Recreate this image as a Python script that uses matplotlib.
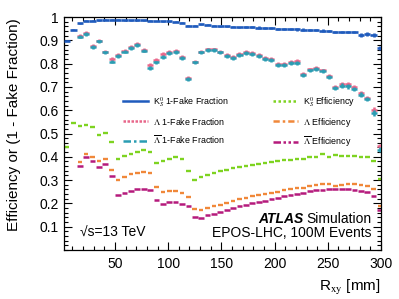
import numpy as np
import matplotlib
matplotlib.use("Agg")
import matplotlib.pyplot as plt
from matplotlib.lines import Line2D
from matplotlib.ticker import MultipleLocator, FormatStrFormatter

plt.rcParams['font.family'] = ['Liberation Sans', 'DejaVu Sans']
plt.rcParams['mathtext.fontset'] = 'stix'

nan = np.nan
# bin edges in R_xy [mm]
bin_edges = np.arange(2, 303, 6)

k0_fake = [0.899, 0.945, 0.974, 0.984, 0.985, 0.987, 0.988, 0.988, 0.988, 0.987,
           0.987, 0.987, 0.986, 0.984, 0.983, 0.982, 0.982, 0.980, 0.975, 0.963,
           0.962, 0.968, 0.966, 0.963, 0.961, 0.960, 0.958, 0.957, 0.957, 0.956,
           0.955, 0.953, 0.952, 0.950, 0.949, 0.948, 0.947, 0.946, 0.944, 0.943,
           0.942, 0.941, 0.936, 0.935, 0.935, 0.935, 0.924, 0.926, 0.922, 0.866]
k0_fake_err = [0.002]*28 + [0.005]*18 + [0.008]*4

lbar_fake = [nan, nan, 0.916, 0.927, 0.871, 0.895, 0.848, 0.809, 0.834, 0.852,
             0.867, 0.881, 0.856, 0.781, 0.805, 0.828, 0.845, 0.849, 0.824, 0.734,
             0.805, 0.848, 0.857, 0.857, 0.848, 0.834, 0.824, 0.838, 0.845, 0.842,
             0.834, 0.819, 0.817, 0.795, 0.795, 0.802, 0.802, 0.752, 0.771, 0.777,
             0.767, 0.742, 0.695, 0.705, 0.702, 0.691, 0.667, 0.648, 0.588, 0.431]
lam_fake = [nan, nan, 0.920, 0.931, 0.875, 0.899, 0.852, 0.820, 0.838, 0.856,
            0.871, 0.885, 0.860, 0.795, 0.815, 0.840, 0.849, 0.853, 0.828, 0.738,
            0.809, 0.852, 0.861, 0.861, 0.852, 0.838, 0.830, 0.842, 0.849, 0.846,
            0.838, 0.824, 0.822, 0.800, 0.800, 0.806, 0.812, 0.757, 0.775, 0.781,
            0.771, 0.747, 0.700, 0.712, 0.713, 0.700, 0.672, 0.653, 0.600, 0.445]
lam_fake_err = [nan, nan] + [0.008]*40 + [0.010]*6 + [0.012]*2

k0_eff = [0.443, 0.545, 0.534, 0.535, 0.526, 0.495, 0.504, 0.462, 0.391, 0.404,
          0.412, 0.421, 0.428, 0.422, 0.374, 0.384, 0.392, 0.398, 0.392, 0.341,
          0.302, 0.314, 0.322, 0.331, 0.338, 0.345, 0.352, 0.357, 0.362, 0.366,
          0.371, 0.374, 0.378, 0.381, 0.385, 0.388, 0.391, 0.392, 0.398, 0.400,
          0.411, 0.400, 0.406, 0.404, 0.404, 0.403, 0.400, 0.398, 0.382, 0.306]
lam_eff = [nan, nan, 0.379, 0.414, 0.400, 0.381, 0.391, 0.342, 0.302, 0.314,
           0.327, 0.331, 0.334, 0.329, 0.271, 0.250, 0.255, 0.252, 0.243, 0.226,
           0.175, 0.172, 0.180, 0.188, 0.193, 0.200, 0.210, 0.218, 0.224, 0.230,
           0.236, 0.241, 0.246, 0.251, 0.256, 0.261, 0.265, 0.268, 0.274, 0.279,
           0.282, 0.283, 0.275, 0.280, 0.282, 0.282, 0.281, 0.276, 0.262, 0.188]
lbar_eff = [nan, nan, 0.362, 0.398, 0.381, 0.357, 0.369, 0.319, 0.238, 0.245,
            0.255, 0.262, 0.263, 0.258, 0.213, 0.199, 0.204, 0.204, 0.199, 0.188,
            0.140, 0.138, 0.148, 0.156, 0.163, 0.171, 0.180, 0.187, 0.194, 0.200,
            0.206, 0.212, 0.218, 0.224, 0.230, 0.235, 0.241, 0.246, 0.252, 0.256,
            0.258, 0.260, 0.262, 0.262, 0.261, 0.259, 0.255, 0.248, 0.232, 0.172]

labels = [r"K$^{0}_{S}$ 1-Fake Fraction", r"$\Lambda$ 1-Fake Fraction",
          r"$\overline{\Lambda}$ 1-Fake Fraction", r"K$^{0}_{S}$ Efficiency",
          r"$\Lambda$ Efficiency", r"$\overline{\Lambda}$ Efficiency"]

c_k0f, c_lf, c_lbf = '#1f5bbd', '#e8678a', '#2a9db3'
c_k0e, c_le, c_lbe = '#7ed321', '#f0883a', '#b51a7c'

fig = plt.figure(figsize=(3.99, 2.99), dpi=100)
ax = fig.add_axes([0.160, 0.164, 0.795, 0.779])

edges = np.asarray(bin_edges, float)
xc = 0.5 * (edges[:-1] + edges[1:])
hw = 0.5 * (edges[1:] - edges[:-1])


def draw(vals, color, frac, lw, err=None, z=2):
    y = np.asarray(vals, float)
    m = ~np.isnan(y)
    ax.hlines(y[m], xc[m] - hw[m] * frac, xc[m] + hw[m] * frac,
              colors=color, lw=lw, zorder=z)
    if err is not None:
        e = np.asarray(err, float)
        ax.vlines(xc[m], y[m] - e[m], y[m] + e[m], colors=color, lw=lw, zorder=z)


draw(k0_eff, c_k0e, 0.72, 1.7)
draw(lam_eff, c_le, 0.72, 1.7)
draw(lbar_eff, c_lbe, 0.9, 1.8)
draw(lam_fake, c_lf, 0.95, 1.8, lam_fake_err, z=3)
draw(lbar_fake, c_lbf, 0.95, 1.8, lam_fake_err, z=4)
draw(k0_fake, c_k0f, 1.0, 1.9, k0_fake_err, z=5)

ax.set_xlim(2, 300)
ax.set_ylim(0, 1)
ax.xaxis.set_major_locator(MultipleLocator(50))
ax.xaxis.set_minor_locator(MultipleLocator(10))
ax.set_yticks(np.arange(1, 11) / 10)
ax.yaxis.set_minor_locator(MultipleLocator(0.02))
ax.yaxis.set_major_formatter(FormatStrFormatter('%g'))
ax.xaxis.set_major_formatter(FormatStrFormatter('%g'))
ax.tick_params(which='both', direction='in', top=True, right=True, labelsize=10)
ax.tick_params(which='major', length=6, width=0.8)
ax.tick_params(which='minor', length=3, width=0.8)
ax.tick_params(axis='x', pad=5)
for s in ax.spines.values():
    s.set_linewidth(0.9)

ax.set_xlabel(r"R$_{\mathrm{xy}}$ [mm]", fontsize=11, loc='right', labelpad=5)
fig.text(14 / 399, 1 - 18 / 299, "Efficiency or (1 - Fake Fraction)", rotation=90,
         ha='center', va='top', fontsize=11)

handles = [Line2D([], [], color=c_k0f, lw=1.8, ls='-'),
           Line2D([], [], color=c_lf, lw=1.8, ls=(0, (1, 0.6))),
           Line2D([], [], color=c_lbf, lw=1.8, ls=(0, (3, 1.2, 1, 1.2))),
           Line2D([], [], color=c_k0e, lw=1.8, ls=(0, (1, 1))),
           Line2D([], [], color=c_le, lw=1.8, ls=(0, (2.5, 1.2, 1, 1.2))),
           Line2D([], [], color=c_lbe, lw=1.8, ls=(0, (3, 1, 1, 1, 1, 1)))]
ax.legend(handles, labels, loc='upper left', bbox_to_anchor=(0.175, 0.68), ncol=2,
          frameon=False, fontsize=6.4, handlelength=2.8, handletextpad=0.6,
          columnspacing=5.0, labelspacing=0.75, borderaxespad=0)

ax.text(0.051, 0.055, "\u221as=13 TeV", transform=ax.transAxes, fontsize=10,
        ha='left', va='baseline')
ax.text(0.970, 0.055, "EPOS-LHC, 100M Events", transform=ax.transAxes, fontsize=10,
        ha='right', va='baseline')
ax.text(0.970, 0.115, "Simulation", transform=ax.transAxes, fontsize=10,
        ha='right', va='baseline')
ax.text(0.755, 0.115, "ATLAS", transform=ax.transAxes, fontsize=10,
        ha='right', va='baseline', fontweight='bold', fontstyle='italic')

fig.savefig("out.png", dpi=100)
